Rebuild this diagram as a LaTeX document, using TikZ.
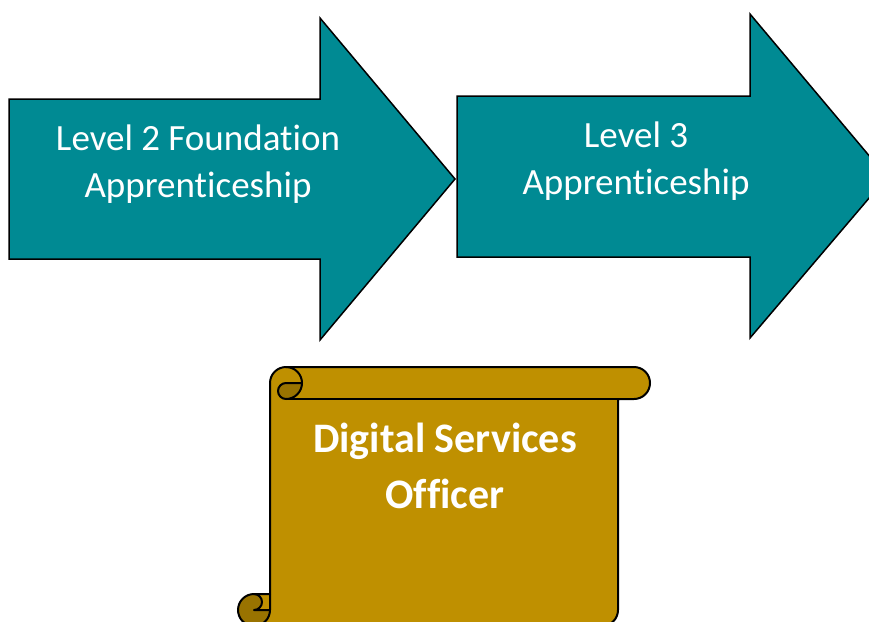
\documentclass[tikz,border=0pt]{standalone}
\usepackage{fontspec}
\setmainfont[Ligatures=NoCommon]{Carlito}
\definecolor{tealfill}{HTML}{008A93}
\definecolor{goldfill}{HTML}{BF9000}
\definecolor{golddark}{HTML}{997300}
\begin{document}
\begin{tikzpicture}[x=1pt,y=-1pt,
  arrowshape/.style={fill=tealfill,draw=black,line width=1.5pt,line join=miter},
  arrowtext/.style={text=white,align=center,inner sep=0pt,font=\fontsize{37}{47}\selectfont},
  scrolltext/.style={text=white,align=center,inner sep=0pt,font=\fontsize{42}{56}\selectfont\bfseries},
  scrollline/.style={draw=black,line width=2pt,line join=round}]
\useasboundingbox (0,0) rectangle (869,621);
\clip (0,0) rectangle (869,621);
% arrows
\draw[arrowshape] (9,99) -- (320,99) -- (320,18) -- (455,179) -- (320,340) -- (320,259) -- (9,259) -- cycle;
\draw[arrowshape] (457,96) -- (750,96) -- (750,14) -- (887,177) -- (750,338) -- (750,257) -- (457,257) -- cycle;
\node[arrowtext] (t1) at (198,164) {Level 2 Foundation\\Apprenticeship};
\node[arrowtext] (t2) at (636,161) {Level 3\\Apprenticeship};
% scroll
\fill[goldfill] (270,594) -- (270,383) arc[start angle=180, delta angle=90, radius=16] -- (634,367) arc[start angle=270, delta angle=180, radius=16] -- (618,399) -- (618,610) arc[start angle=0, delta angle=90, radius=16] -- (254,626) arc[start angle=90, delta angle=180, radius=16] -- cycle;
\fill[golddark] (302,383) arc[start angle=0, delta angle=90, radius=16] arc[start angle=90, delta angle=180, radius=8] -- cycle;
\fill[golddark] (270,610) arc[start angle=0, delta angle=270, radius=16] arc[start angle=270, delta angle=180, radius=8] -- cycle;
\draw[scrollline] (270,594) -- (270,383) arc[start angle=180, delta angle=90, radius=16] -- (634,367) arc[start angle=270, delta angle=180, radius=16] -- (618,399) -- (618,610) arc[start angle=0, delta angle=90, radius=16] -- (254,626) arc[start angle=90, delta angle=180, radius=16] -- cycle;
\draw[scrollline] (286,367) arc[start angle=270, delta angle=180, radius=16] arc[start angle=90, delta angle=180, radius=8] -- (302,383);
\draw[scrollline] (618,399) -- (286,399);
\draw[scrollline] (254,594) arc[start angle=270, delta angle=180, radius=8] -- (270,610);
\draw[scrollline] (254,626) arc[start angle=90, delta angle=-90, radius=16] -- (270,594);
\node[scrolltext] (t3) at (445,466) {Digital Services\\Officer};
\end{tikzpicture}
\end{document}
